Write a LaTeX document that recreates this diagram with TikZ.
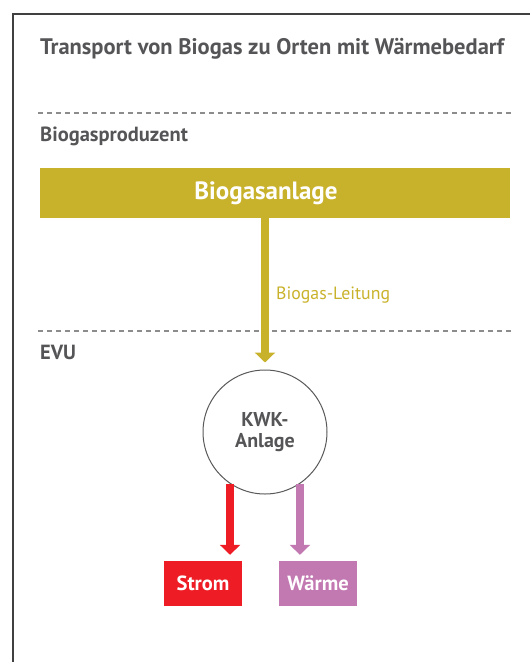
\documentclass[tikz,border=0pt]{standalone}
\usepackage{fontspec}
\setmainfont{PT Sans}
\usetikzlibrary{arrows.meta}
\definecolor{txt}{HTML}{555557}
\definecolor{gas}{HTML}{C9B22B}
\definecolor{strom}{HTML}{EE1C25}
\definecolor{waerme}{HTML}{C278B0}
\definecolor{sepgrey}{HTML}{8C8C8C}
\tikzset{lbl/.style={text=txt,font=\bfseries\fontsize{20.5}{23}\selectfont,anchor=base west,inner sep=0pt}}
\tikzset{anlage/.style={fill=gas,text=white,font=\bfseries\fontsize{25}{28}\selectfont,minimum width=470pt,minimum height=50pt,inner sep=0pt}}
\tikzset{outbox/.style={text=white,font=\bfseries\fontsize{20.5}{23}\selectfont,minimum width=78pt,minimum height=45pt,inner sep=0pt}}
\tikzset{pipe/.style={line width=7.5pt,-{Triangle[width=20pt,length=10pt]}}}
\tikzset{sep/.style={sepgrey,line width=1.1pt,dash pattern=on 5pt off 4pt}}

\begin{document}
\begin{tikzpicture}[x=1pt,y=-1pt]
\useasboundingbox (0,0) rectangle (530,662);
\draw[line width=1.3pt,black!75] (13,662) -- (13,14) -- (530,14);

\node[lbl,font=\bfseries\fontsize{22.5}{25}\selectfont] (title) at (40,54) {Transport von Biogas zu Orten mit Wärmebedarf};
\coordinate (s1a) at (38,113);
\coordinate (s1b) at (512,113);
\draw[sep] (s1a) -- (s1b);
\node[lbl] (prod) at (40,141) {Biogasproduzent};
\node[anlage] (bga) at (275,193) {\hspace*{-18pt}Biogasanlage};

\coordinate (s2a) at (38,331);
\coordinate (s2b) at (512,331);
\draw[sep] (s2a) -- (s2b);
\node[lbl] (evu) at (40,359) {EVU};

\node[circle,draw=black!65,line width=1pt,minimum size=124pt,inner sep=0pt,align=center,text=txt,
  font=\bfseries\fontsize{20}{21}\selectfont] (kwk) at (265,432) {KWK-\\Anlage};

\node[outbox,fill=strom] (st) at (203,583.5) {Strom};
\node[outbox,fill=waerme] (wm) at (318,583.5) {Wärme};

\draw[pipe,gas,shorten >=7pt] (bga.south -| kwk) -- (kwk.north);
\node[text=gas,font=\fontsize{17.8}{20}\selectfont,anchor=base west,inner sep=0pt] (leit) at (276,299) {Biogas-Leitung};
\draw[pipe,strom,shorten >=6pt] (kwk.236) -- (kwk.236 |- st.north);
\draw[pipe,waerme,shorten >=6pt] (kwk.304) -- (kwk.304 |- wm.north);
\end{tikzpicture}
\end{document}
